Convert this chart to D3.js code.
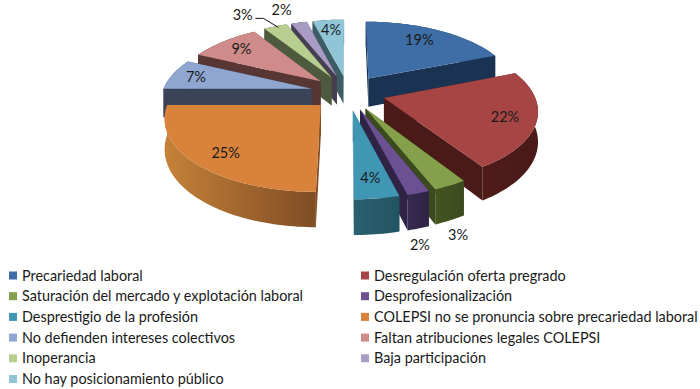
<!DOCTYPE html>
<html>
<head>
<meta charset="utf-8">
<script src="https://cdnjs.cloudflare.com/ajax/libs/d3/7.8.5/d3.min.js"></script>
<style>
  html, body { margin: 0; padding: 0; background: #fff; }
  text { font-family: Lato, "Open Sans", sans-serif; fill: #1a1a1a; }
</style>
</head>
<body>
<svg id="chart" width="700" height="389"></svg>
<script>
var categories = [
  "Precariedad laboral",
  "Desregulación oferta pregrado",
  "Saturación del mercado y explotación laboral",
  "Desprofesionalización",
  "Desprestigio de la profesión",
  "COLEPSI no se pronuncia sobre precariedad laboral",
  "No defienden intereses colectivos",
  "Faltan atribuciones legales COLEPSI",
  "Inoperancia",
  "Baja participación",
  "No hay posicionamiento público"
];
var values = [19, 22, 3, 2, 4, 25, 7, 9, 3, 2, 4];

var topColors = ["#3f6ea6", "#a64543", "#84a04a", "#6b5092", "#3f97b3", "#d9823b", "#8ea6d0", "#cf8b89", "#b8cd90", "#a89cc4", "#8fc5d7"];
var wallColors = ["#1b3352", "#4a1a18", "#3b4a1f", "#2f2445", "#235361", "#7f4c24", "#3a4358", "#573634", "#4e5a3d", "#463f52", "#3e5c66"];
var arcLight = ["#1f3a5c", "#4f1c1a", "#44551f", "#362a50", "#2a6070", "#c58239", "#3a4358", "#573634", "#4e5a3d", "#463f52", "#3e5c66"];

// radial fraction, then pixel nudge, for each percent label
var labelSpots = [[.7, 0, -4], [.8, 0, 1], [1.1, -2, 40], [1.05, -2, 47], [.8, -1, 0], [.78, 0, 4], [.8, -4, 0], [.8, 0, 0], [1.2, -23, -3], [1.2, -11, -3], [.8, 0, 0]];

var svg = d3.select("#chart");
var defs = svg.append("defs");

var cx = 348, cy = 92.5,
    radiusX = 149.5, radiusY = 69.4,
    persp = .1515,
    explode = .25,
    depth = 29;

function project(x, y, low) {
  var s = 1 / (1 + persp * y);
  return [cx + radiusX * x * s, cy - radiusY * y * s + (low ? depth * s : 0)];
}

var line = d3.line();

var slices = d3.pie().sort(null).value(function(d) { return d; })(values).map(function(p, i) {
  var mid = (p.startAngle + p.endAngle) / 2;
  return {
    i: i,
    a0: p.startAngle,
    a1: p.endAngle,
    mid: mid,
    ox: explode * Math.sin(mid),
    oy: explode * Math.cos(mid)
  };
});

function rim(d, a) {
  return [d.ox + Math.sin(a), d.oy + Math.cos(a)];
}

function arcPoints(d) {
  var n = Math.max(4, Math.ceil((d.a1 - d.a0) * 40));
  return d3.range(n + 1).map(function(k) {
    return rim(d, d.a0 + (d.a1 - d.a0) * k / n);
  });
}

function drawSlice(g, d) {
  var apex = [d.ox, d.oy];
  var pts = arcPoints(d);
  var upper = pts.map(function(p) { return project(p[0], p[1], false); });
  var lower = pts.map(function(p) { return project(p[0], p[1], true); });

  var gradId = "wall" + d.i;
  var gr = defs.append("linearGradient").attr("id", gradId)
    .attr("gradientUnits", "userSpaceOnUse")
    .attr("x1", d3.min(upper, function(p) { return p[0]; })).attr("y1", 0)
    .attr("x2", d3.max(upper, function(p) { return p[0]; })).attr("y2", 0);
  gr.append("stop").attr("offset", 0).attr("stop-color", arcLight[d.i]);
  gr.append("stop").attr("offset", 1).attr("stop-color", wallColors[d.i]);

  var e0 = rim(d, d.a0), e1 = rim(d, d.a1);
  var faces = [
    { y: (apex[1] + e0[1]) / 2, fill: wallColors[d.i],
      path: [project(apex[0], apex[1]), project(e0[0], e0[1]), project(e0[0], e0[1], true), project(apex[0], apex[1], true)] },
    { y: (apex[1] + e1[1]) / 2, fill: wallColors[d.i],
      path: [project(apex[0], apex[1]), project(e1[0], e1[1]), project(e1[0], e1[1], true), project(apex[0], apex[1], true)] },
    { y: d.oy + Math.cos(d.mid), fill: "url(#" + gradId + ")",
      path: upper.concat(lower.slice().reverse()) }
  ];
  faces.sort(function(a, b) { return b.y - a.y; });
  faces.forEach(function(f) {
    g.append("path").attr("d", line(f.path) + "Z").attr("fill", f.fill);
  });

  var top = [project(apex[0], apex[1])].concat(upper);
  g.append("path").attr("d", line(top) + "Z").attr("fill", topColors[d.i]);
}

var pieG = svg.append("g");
slices.slice().sort(function(a, b) { return b.oy - a.oy; }).forEach(function(d) {
  drawSlice(pieG.append("g"), d);
});

// percent labels
svg.append("g").selectAll("text").data(slices).enter().append("text")
  .attr("x", function(d) {
    var sp = labelSpots[d.i];
    return project(d.ox + sp[0] * Math.sin(d.mid), d.oy + sp[0] * Math.cos(d.mid))[0] + sp[1];
  })
  .attr("y", function(d) {
    var sp = labelSpots[d.i];
    return project(d.ox + sp[0] * Math.sin(d.mid), d.oy + sp[0] * Math.cos(d.mid))[1] + sp[2];
  })
  .attr("dy", "0.35em")
  .attr("text-anchor", "middle")
  .attr("font-size", 14.5)
  .text(function(d) { return values[d.i] + "%"; });

// leader line for the small slice at the top
var tip = rim(slices[8], slices[8].mid);
var tipXY = project(tip[0], tip[1]);
svg.append("path")
  .attr("d", line([[tipXY[0] - 20, tipXY[1] - 8], [tipXY[0] - 12, tipXY[1] - 8], [tipXY[0] + 3, tipXY[1] + 1]]))
  .attr("fill", "none")
  .attr("stroke", "#111")
  .attr("stroke-width", 1);

// legend, two columns filled row by row
var legendCol = d3.scalePoint().domain([0, 1]).range([9, 361]);
var legendRow = d3.scaleLinear().domain([0, 5]).range([275.5, 379]);

var legend = svg.append("g").selectAll("g").data(categories).enter().append("g")
  .attr("transform", function(d, i) {
    return "translate(" + legendCol(i % 2) + "," + legendRow(Math.floor(i / 2)) + ")";
  });
legend.append("rect")
  .attr("x", 0).attr("y", -4)
  .attr("width", 8).attr("height", 8)
  .attr("fill", function(d, i) { return topColors[i]; });
legend.append("text")
  .attr("x", 13)
  .attr("dy", "0.35em")
  .attr("font-size", 14.4)
  .text(function(d) { return d; });
</script>
</body>
</html>
